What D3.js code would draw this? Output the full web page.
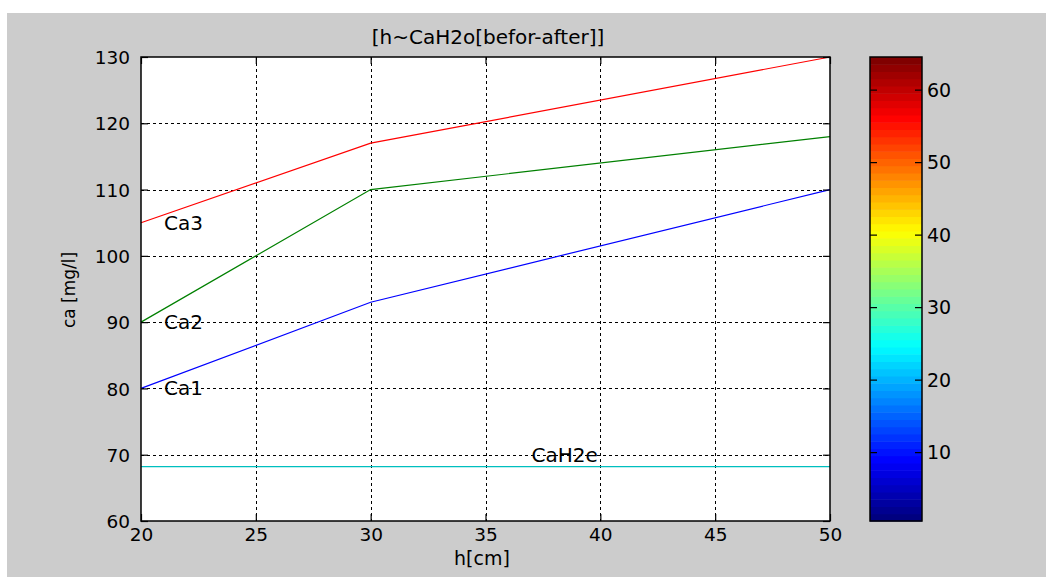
<!DOCTYPE html>
<html>
<head>
<meta charset="utf-8">
<script src="https://cdn.jsdelivr.net/npm/d3@7"></script>
<style>
  body { margin: 0; background: #fff; }
  text { font-family: "DejaVu Sans", Verdana, sans-serif; fill: #000; }
  .grid line { stroke: #000; stroke-dasharray: 3,3; stroke-width: 1; }
</style>
</head>
<body>
<div id="chart"></div>
<script>
// DATA
var hValues = [20, 30, 50];
var ca1 = [80, 93, 110];
var ca2 = [90, 110, 118];
var ca3 = [105, 117, 130];
var caH2o = [68.2, 68.2, 68.2];
var xTicks = [20, 25, 30, 35, 40, 45, 50];
var yTicks = [60, 70, 80, 90, 100, 110, 120, 130];
var cbTicks = [10, 20, 30, 40, 50, 60];
var labels = [
  {text: "Ca3", x: 21, y: 105},
  {text: "Ca2", x: 21, y: 90},
  {text: "Ca1", x: 21, y: 80},
  {text: "CaH2e", x: 37, y: 70}
];
var seriesList = [
  {values: ca1, color: "#0000ff"},
  {values: ca2, color: "#008000"},
  {values: ca3, color: "#ff0000"},
  {values: caH2o, color: "#00bfbf"}
];

var W = 1046, H = 577;
var svg = d3.select("#chart").append("svg").attr("width", W).attr("height", H);

// figure background
svg.append("rect").attr("x", 7).attr("y", 13).attr("width", W - 7).attr("height", H - 13).attr("fill", "#cccccc");

var pLeft = 141, pRight = 830, pTop = 57, pBottom = 521;
var x = d3.scaleLinear().domain([20, 50]).range([pLeft, pRight]);
var y = d3.scaleLinear().domain([60, 130]).range([pBottom, pTop]);

svg.append("rect").attr("x", pLeft).attr("y", pTop).attr("width", pRight - pLeft).attr("height", pBottom - pTop).attr("fill", "#fff");

// grid
var grid = svg.append("g").attr("class", "grid");
grid.selectAll(".vx").data(xTicks.slice(1, -1)).enter().append("line")
  .attr("x1", function(d){ return Math.round(x(d)) + 0.5 }).attr("x2", function(d){ return Math.round(x(d)) + 0.5 })
  .attr("y1", pTop).attr("y2", pBottom);
grid.selectAll(".hy").data(yTicks.slice(1, -1)).enter().append("line")
  .attr("y1", function(d){ return Math.round(y(d)) + 0.5 }).attr("y2", function(d){ return Math.round(y(d)) + 0.5 })
  .attr("x1", pLeft).attr("x2", pRight);

// lines
var line = d3.line()
  .x(function(d, i){ return x(hValues[i]) })
  .y(function(d){ return y(d) });
seriesList.forEach(function(s){
  svg.append("path").attr("d", line(s.values)).attr("fill", "none")
    .attr("stroke", s.color).attr("stroke-width", 1.2);
});

// text labels
svg.selectAll(".lbl").data(labels).enter().append("text")
  .attr("x", function(d){ return x(d.x) }).attr("y", function(d){ return y(d.y) + 7 })
  .attr("font-size", 20).text(function(d){ return d.text });

// axes with inward ticks on all sides
var tickLen = 7;
var xAxisB = d3.axisBottom(x).tickValues(xTicks).tickSizeInner(-tickLen).tickSizeOuter(0).tickPadding(12);
var xAxisT = d3.axisTop(x).tickValues(xTicks).tickSizeInner(-tickLen).tickSizeOuter(0).tickFormat("");
var yAxisL = d3.axisLeft(y).tickValues(yTicks).tickSizeInner(-tickLen).tickSizeOuter(0).tickPadding(11);
var yAxisR = d3.axisRight(y).tickValues(yTicks).tickSizeInner(-tickLen).tickSizeOuter(0).tickFormat("");

var gB = svg.append("g").attr("transform", "translate(0," + pBottom + ")").call(xAxisB);
svg.append("g").attr("transform", "translate(0," + pTop + ")").call(xAxisT);
var gL = svg.append("g").attr("transform", "translate(" + pLeft + ",0)").call(yAxisL);
svg.append("g").attr("transform", "translate(" + pRight + ",0)").call(yAxisR);
svg.selectAll(".domain").remove();
svg.selectAll(".tick line").attr("stroke", "#000").attr("stroke-width", 1.2);
gB.selectAll("text").attr("font-size", 18.5).attr("font-family", "DejaVu Sans, Verdana, sans-serif").attr("fill", "#000").attr("dy", "0.42em");
gL.selectAll("text").attr("font-size", 18.5).attr("font-family", "DejaVu Sans, Verdana, sans-serif").attr("fill", "#000").attr("dy", "0.36em");

svg.append("rect").attr("x", pLeft).attr("y", pTop).attr("width", pRight - pLeft).attr("height", pBottom - pTop)
  .attr("fill", "none").attr("stroke", "#000").attr("stroke-width", 1.5);

// titles
svg.append("text").attr("x", 488).attr("y", 44).attr("text-anchor", "middle").attr("font-size", 20)
  .text("[h~CaH2o[befor-after]]");
svg.append("text").attr("x", 482).attr("y", 565).attr("text-anchor", "middle").attr("font-size", 19)
  .text("h[cm]");
svg.append("text").attr("transform", "translate(75,290) rotate(-90)").attr("text-anchor", "middle").attr("font-size", 17)
  .text("ca [mg/l]");

// colorbar (jet, 64 levels)
var cbL = 870, cbR = 922;
var cy = d3.scaleLinear().domain([0.5, 64.5]).range([pBottom, pTop]);
function jet(i) {
  var t = (i - 1) / 63;
  function c(v){ return Math.round(255 * Math.max(0, Math.min(1, v))) }
  return d3.rgb(c(1.5 - Math.abs(4 * t - 3)), c(1.5 - Math.abs(4 * t - 2)), c(1.5 - Math.abs(4 * t - 1))).toString();
}
var levels = d3.range(1, 65);
svg.selectAll(".cb").data(levels).enter().append("rect")
  .attr("x", cbL).attr("width", cbR - cbL)
  .attr("y", function(d){ return cy(d + 0.5) })
  .attr("height", function(d){ return cy(d - 0.5) - cy(d + 0.5) + 0.5 })
  .attr("fill", function(d){ return jet(d) });
var cbAxisR = d3.axisRight(cy).tickValues(cbTicks).tickSizeInner(-tickLen).tickSizeOuter(0).tickPadding(12);
var cbAxisL = d3.axisLeft(cy).tickValues(cbTicks).tickSizeInner(-tickLen).tickSizeOuter(0).tickFormat("");
var gC = svg.append("g").attr("transform", "translate(" + cbR + ",0)").call(cbAxisR);
svg.append("g").attr("transform", "translate(" + cbL + ",0)").call(cbAxisL);
svg.selectAll(".domain").remove();
svg.selectAll(".tick line").attr("stroke", "#000").attr("stroke-width", 1.2);
gC.selectAll("text").attr("font-size", 19).attr("font-family", "DejaVu Sans, Verdana, sans-serif").attr("fill", "#000").attr("dx", "-7").attr("dy", "0.36em");
svg.append("rect").attr("x", cbL).attr("y", pTop).attr("width", cbR - cbL).attr("height", pBottom - pTop)
  .attr("fill", "none").attr("stroke", "#000").attr("stroke-width", 1.5);
</script>
</body>
</html>
